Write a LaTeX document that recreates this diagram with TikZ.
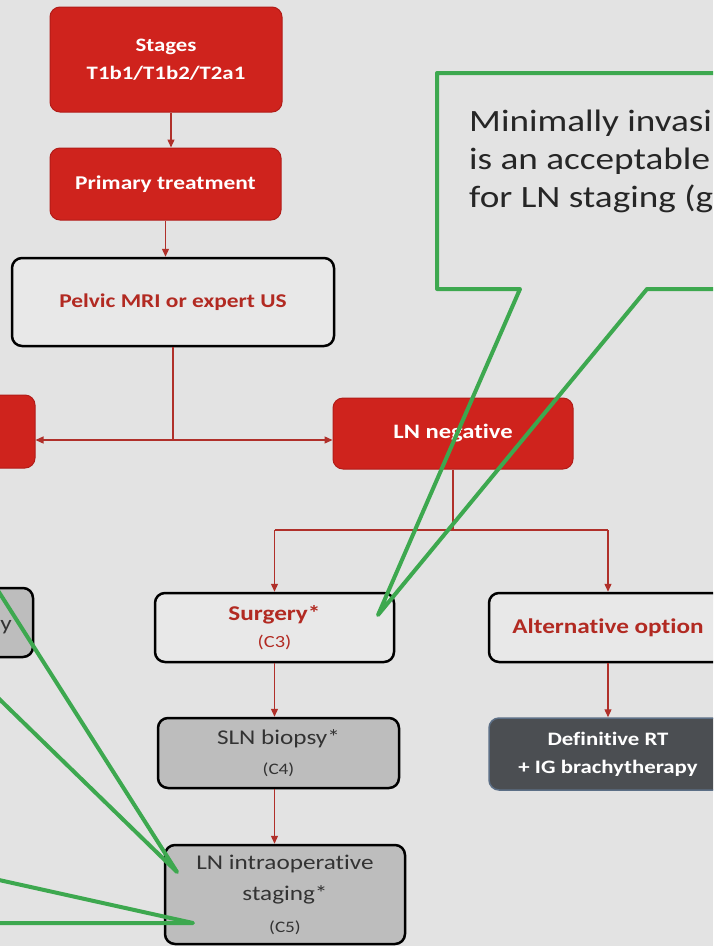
\documentclass[tikz,border=0pt]{standalone}
\usepackage{fontspec}
\setmainfont[FakeStretch=1.2, Ligatures={NoCommon}]{Carlito}
\usetikzlibrary{arrows.meta}
\definecolor{bg}{HTML}{E3E3E3}
\definecolor{boxred}{HTML}{CF231D}
\definecolor{boxredd}{HTML}{B21C18}
\definecolor{arrred}{HTML}{B0302A}
\definecolor{txtred}{HTML}{B22A22}
\definecolor{boxwhite}{HTML}{E8E8E8}
\definecolor{boxgray}{HTML}{BDBDBD}
\definecolor{boxdark}{HTML}{4B4E52}
\definecolor{boxdarkb}{HTML}{5C6F86}
\definecolor{cgreen}{HTML}{3DA84F}
\definecolor{txtdark}{HTML}{333333}
\tikzset{
  basebox/.style={rectangle, rounded corners=10pt, align=center, inner sep=0pt},
  redbox/.style={basebox, fill=boxred, draw=boxredd, line width=1pt, text=white, font=\bfseries\fontsize{20}{24}\selectfont},
  whitebox/.style={basebox, fill=boxwhite, draw=black, line width=2.5pt, text=txtred},
  graybox/.style={basebox, fill=boxgray, draw=black, line width=2.5pt, text=txtdark},
  darkbox/.style={basebox, fill=boxdark, draw=boxdarkb, line width=1.5pt, text=white, font=\bfseries\fontsize{19}{28}\selectfont},
  conn/.style={draw=arrred, line width=1.3pt},
  arr/.style={conn, -{Triangle[length=8pt,width=7pt]}},
  callout/.style={draw=cgreen, line width=4pt, line join=round, line cap=round},
}
\begin{document}
\begin{tikzpicture}[x=1pt, y=-1pt]
\fill[bg] (0,0) rectangle (713,946);
\useasboundingbox (0,0) rectangle (713,946);
\clip (0,0) rectangle (713,946);

\node[redbox, minimum width=232pt, minimum height=105pt, font=\bfseries\fontsize{19}{28}\selectfont] (stages) at (166,59.5) {Stages\\T1b1/T1b2/T2a1};
\node[redbox, minimum width=231pt, minimum height=72pt, font=\bfseries\fontsize{19.5}{24}\selectfont] (prim) at (165.5,184) {Primary treatment};
\node[whitebox, minimum width=322pt, minimum height=88pt, font=\bfseries\fontsize{19.5}{24}\selectfont] (pelv) at (173,302) {Pelvic MRI or expert US};
\node[redbox, minimum width=240pt, minimum height=73pt] (lnpos) at (-85,431.5) {};
\node[redbox, minimum width=240pt, minimum height=71pt, font=\bfseries\fontsize{20.5}{24}\selectfont] (lnneg) at (453,433.5) {LN negative};
\node[whitebox, minimum width=239pt, minimum height=69pt, font=\fontsize{21}{27}\selectfont] (surg) at (274.5,627.5) {{\bfseries Surgery*}\\{\fontsize{17}{20}\selectfont (C3)}};
\node[whitebox, minimum width=238pt, minimum height=69pt, font=\bfseries\fontsize{21}{24}\selectfont] (alt) at (608,627.5) {Alternative option};
\node[graybox, minimum width=241pt, minimum height=70pt, font=\fontsize{21}{30}\selectfont] (sln) at (278.5,753) {SLN biopsy*\\{\fontsize{16}{20}\selectfont (C4)}};
\node[graybox, minimum width=240pt, minimum height=99pt, font=\fontsize{21}{31.5}\selectfont] (lnio) at (285,894.5) {LN intraoperative\\staging*\\{\fontsize{16}{20}\selectfont (C5)}};
\node[darkbox, minimum width=238pt, minimum height=72pt] (defrt) at (608,754) {Definitive RT\\+ IG brachytherapy};
\node[graybox, minimum width=240pt, minimum height=69pt] (lgray) at (-87,622.5) {};
\node[anchor=east, text=txtdark, font=\fontsize{21}{24}\selectfont, inner sep=0pt] (lgtext) at (12,627) {y};

% connectors
\draw[arr] ([xshift=5pt]stages.south) -- ([xshift=5pt]stages.south |- prim.north);
\draw[arr] (prim.south) -- (prim.south |- pelv.north);
\coordinate (j1) at (173,440);
\draw[conn] (pelv.south) -- (j1);
\draw[arr] (j1) -- (lnneg.west |- j1);
\draw[arr] (j1) -- (lnpos.east |- j1);
\coordinate (j2) at (453,530);
\draw[conn] (lnneg.south) -- (j2);
\draw[conn] (surg.north |- j2) -- (alt.north |- j2);
\draw[arr] (surg.north |- j2) -- (surg.north);
\draw[arr] (alt.north |- j2) -- (alt.north);
\draw[arr] (surg.south) -- (surg.south |- sln.north);
\draw[arr] (surg.south |- sln.south) -- (surg.south |- lnio.north);
\draw[arr] (alt.south) -- (defrt.north);

% callouts
\draw[callout] (730,73) -- (437,73) -- (437,289) -- (520,289) -- (378,615) -- (647,289) -- (730,289);
\node[anchor=base west, align=left, inner sep=0pt, text=black!85, font=\fontsize{31}{38}\selectfont] (ctext) at (469,207) {Minimally invasi\\is an acceptable\\for LN staging (g};
\draw[callout] (-10,578) -- (177,872) -- (-10,690);
\draw[callout] (-10,878) -- (193,923) -- (-10,923);
\end{tikzpicture}
\end{document}
